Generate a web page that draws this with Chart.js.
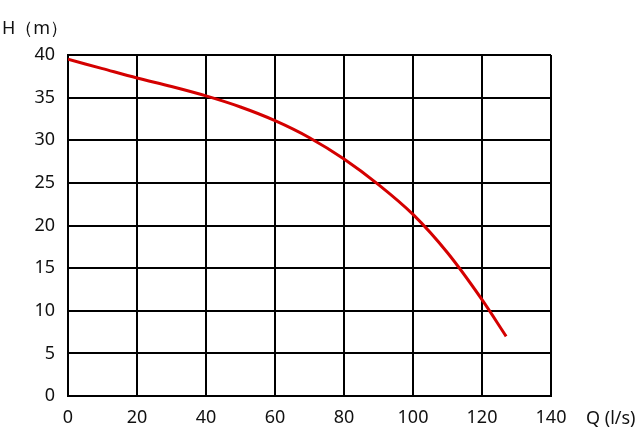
<!DOCTYPE html>
<html>
<head>
<meta charset="utf-8">
<script src="https://cdn.jsdelivr.net/npm/chart.js@4"></script>
<style>
  html, body { margin: 0; padding: 0; background: #fff; }
  #wrap { width: 640px; height: 436px; }
</style>
</head>
<body>
<div id="wrap"><canvas id="chartCurva"></canvas></div>
<script>
// datos
const caudal = [0, 10, 20, 30, 40, 50, 60, 70, 80, 90, 100, 110, 120, 127];
const altura = [39.5, 38.4, 37.3, 36.3, 35.2, 33.9, 32.3, 30.3, 27.8, 24.8, 21.3, 16.8, 11.3, 7];
const ticksX = [0, 20, 40, 60, 80, 100, 120, 140];
const ticksY = [0, 5, 10, 15, 20, 25, 30, 35, 40];
const tituloY = "H（m）";
const tituloX = "Q (l/s)";

const FONT = "'Noto Sans', sans-serif";

// titulos de los ejes
const titulos = {
  id: "titulos",
  afterDraw(chart) {
    const ctx = chart.ctx;
    ctx.save();
    ctx.fillStyle = "#111";
    ctx.font = "18px " + FONT;
    ctx.textBaseline = "middle";
    ctx.textAlign = "left";
    ctx.fillText(tituloY, 2, 29);
    ctx.fillText(tituloX, 586, 419);
    ctx.restore();
  }
};

const ctx = document.getElementById("chartCurva").getContext("2d");
new Chart(ctx, {
  type: "scatter",
  data: {
    datasets: [{
      data: caudal.map((q, i) => ({ x: q, y: altura[i] })),
      showLine: true,
      borderColor: "#d40000",
      borderWidth: 3,
      pointRadius: 0,
      cubicInterpolationMode: "monotone"
    }]
  },
  options: {
    responsive: true,
    maintainAspectRatio: false,
    animation: false,
    layout: { padding: { top: 55, right: 89, left: 0, bottom: 0 } },
    plugins: { legend: { display: false }, tooltip: { enabled: false } },
    scales: {
      x: {
        type: "linear",
        min: 0, max: 140,
        afterBuildTicks: (s) => { s.ticks = ticksX.map(v => ({ value: v })); },
        afterFit: (s) => { s.height = 40; },
        grid: { color: "#000", lineWidth: 2, drawTicks: false },
        border: { color: "#000", width: 2 },
        ticks: { color: "#111", padding: 11, font: { family: FONT, size: 18 } }
      },
      y: {
        type: "linear",
        min: 0, max: 40,
        afterBuildTicks: (s) => { s.ticks = ticksY.map(v => ({ value: v })); },
        afterFit: (s) => { s.width = 68; },
        grid: { color: "#000", lineWidth: 2, drawTicks: false },
        border: { color: "#000", width: 2 },
        ticks: { color: "#111", padding: 13, font: { family: FONT, size: 18 } }
      }
    }
  },
  plugins: [titulos]
});
</script>
</body>
</html>
